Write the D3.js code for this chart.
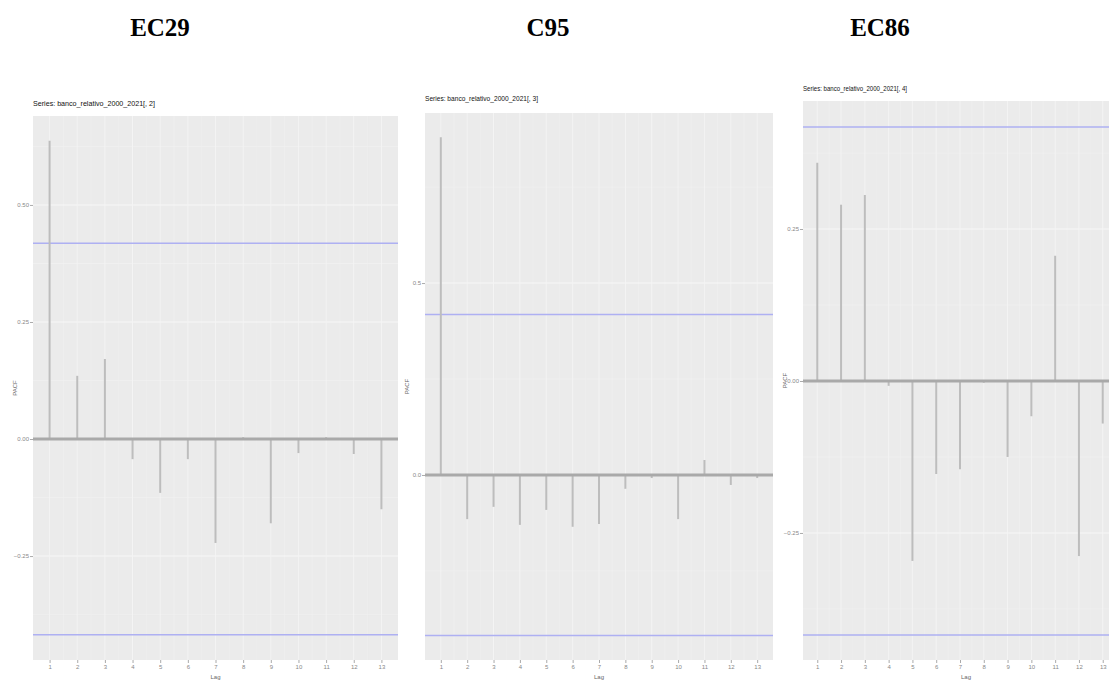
<!DOCTYPE html>
<html>
<head>
<meta charset="utf-8">
<script src="https://cdn.jsdelivr.net/npm/d3@7"></script>
<style>
  body { margin: 0; background: #fff; }
  .header { font-family: "Liberation Serif", "Times New Roman", serif; font-weight: bold; font-size: 25px; }
  .title { font-family: "Liberation Sans", Arial, sans-serif; font-size: 8px; fill: #111; }
  .tick text { font-family: "Liberation Sans", Arial, sans-serif; font-size: 6px; fill: #888; }
  .axlab { font-family: "Liberation Sans", Arial, sans-serif; font-size: 6px; fill: #666; }
</style>
</head>
<body>
<div class="canvas"></div>
<script>
// data
const lags = [1, 2, 3, 4, 5, 6, 7, 8, 9, 10, 11, 12, 13];
const headers = ['EC29', 'C95', 'EC86'];
const seriesTitles = [
  'Series: banco_relativo_2000_2021[, 2]',
  'Series: banco_relativo_2000_2021[, 3]',
  'Series: banco_relativo_2000_2021[, 4]'
];
const pacfEC29 = [0.637, 0.135, 0.171, -0.043, -0.115, -0.043, -0.222, 0.004, -0.180, -0.030, 0.004, -0.032, -0.150];
const pacfC95  = [0.880, -0.115, -0.083, -0.130, -0.091, -0.135, -0.128, -0.036, -0.008, -0.115, 0.039, -0.026, -0.008];
const pacfEC86 = [0.359, 0.290, 0.306, -0.008, -0.296, -0.153, -0.145, -0.003, -0.125, -0.058, 0.206, -0.288, -0.070];
const ciLimit = 0.418;
const yTicksEC29 = [-0.25, 0, 0.25, 0.5];
const yTicksC95 = [0, 0.5];
const yTicksEC86 = [-0.25, 0, 0.25];
const yMinorEC29 = [-0.375, -0.125, 0.125, 0.375, 0.625];
const yMinorC95 = [-0.25, 0.25, 0.75];
const yMinorEC86 = [-0.375, -0.125, 0.125, 0.375];

const svg = d3.select('.canvas')
              .append('svg')
              .attr('width', 1109)
              .attr('height', 681);

// panel layout
const panels = [
  {values: pacfEC29, ticks: yTicksEC29, minor: yMinorEC29, fmt: d3.format('.2f'),
   left: 33, right: 398, top: 116, bottom: 660, ydom: [-0.472, 0.690], headX: 160, titleTop: 108, titleW: 122},
  {values: pacfC95, ticks: yTicksC95, minor: yMinorC95, fmt: d3.format('.1f'),
   left: 425, right: 773, top: 113, bottom: 660, ydom: [-0.482, 0.943], headX: 548, titleTop: 103, titleW: 113},
  {values: pacfEC86, ticks: yTicksEC86, minor: yMinorEC86, fmt: d3.format('.2f'),
   left: 803, right: 1117, top: 101, bottom: 660, ydom: [-0.459, 0.4606], headX: 880, titleTop: 93, titleW: 104}
];

panels.forEach((p, i) => {
  // big header
  svg.append('text')
     .attr('class', 'header')
     .attr('x', p.headX)
     .attr('y', 36)
     .attr('text-anchor', 'middle')
     .text(headers[i]);

  const x = d3.scaleLinear().domain([0.4, 13.6]).range([p.left, p.right]);
  const y = d3.scaleLinear().domain(p.ydom).range([p.bottom, p.top]);

  const g = svg.append('g');

  // panel background
  g.append('rect')
   .attr('x', p.left).attr('y', p.top)
   .attr('width', p.right - p.left).attr('height', p.bottom - p.top)
   .attr('fill', '#ebebeb');

  // minor grid
  g.selectAll('.hminor').data(p.minor).enter().append('line')
   .attr('x1', p.left).attr('x2', p.right)
   .attr('y1', d => y(d)).attr('y2', d => y(d))
   .attr('stroke', '#f2f2f2').attr('stroke-width', 0.6);
  g.selectAll('.vminor').data(lags.slice(0, -1).map(d => d + 0.5)).enter().append('line')
   .attr('x1', d => x(d)).attr('x2', d => x(d))
   .attr('y1', p.top).attr('y2', p.bottom)
   .attr('stroke', '#f0f0f0').attr('stroke-width', 0.5);

  // major grid
  g.selectAll('.hmajor').data(p.ticks).enter().append('line')
   .attr('x1', p.left).attr('x2', p.right)
   .attr('y1', d => y(d)).attr('y2', d => y(d))
   .attr('stroke', '#f7f7f7').attr('stroke-width', 1.1);
  g.selectAll('.vmajor').data(lags).enter().append('line')
   .attr('x1', d => x(d)).attr('x2', d => x(d))
   .attr('y1', p.top).attr('y2', p.bottom)
   .attr('stroke', '#f4f4f4').attr('stroke-width', 0.9);

  // confidence limits
  g.selectAll('.ci').data([ciLimit, -ciLimit]).enter().append('line')
   .attr('x1', p.left).attr('x2', p.right)
   .attr('y1', d => y(d)).attr('y2', d => y(d))
   .attr('stroke', '#aeb0f2').attr('stroke-width', 1.5);

  // bars
  g.selectAll('.bar').data(p.values).enter().append('line')
   .attr('x1', (d, j) => x(lags[j])).attr('x2', (d, j) => x(lags[j]))
   .attr('y1', y(0)).attr('y2', d => y(d))
   .attr('stroke', '#bdbdbd').attr('stroke-width', 2);

  // zero line
  g.append('line')
   .attr('x1', p.left).attr('x2', p.right)
   .attr('y1', y(0)).attr('y2', y(0))
   .attr('stroke', '#a9a9a9').attr('stroke-width', 3);

  // axes
  const yAxis = d3.axisLeft(y).tickValues(p.ticks).tickFormat(p.fmt).tickSize(3).tickPadding(1);
  const xAxis = d3.axisBottom(x).tickValues(lags).tickSize(3).tickPadding(2);

  const ya = svg.append('g').attr('transform', 'translate(' + p.left + ',0)').call(yAxis);
  const xa = svg.append('g').attr('transform', 'translate(0,' + p.bottom + ')').call(xAxis);
  [ya, xa].forEach(a => {
    a.select('.domain').remove();
    a.selectAll('.tick line').attr('stroke', '#aaa');
  });

  // titles
  svg.append('text')
     .attr('class', 'title')
     .attr('x', p.left)
     .attr('y', p.titleTop - 2)
     .attr('textLength', p.titleW)
     .attr('lengthAdjust', 'spacingAndGlyphs')
     .text(seriesTitles[i]);

  svg.append('text')
     .attr('class', 'axlab')
     .attr('x', (p.left + Math.min(p.right, 1109)) / 2 + (i === 2 ? 10 : 0))
     .attr('y', 679)
     .attr('text-anchor', 'middle')
     .text('Lag');

  svg.append('text')
     .attr('class', 'axlab')
     .attr('transform', 'translate(' + (p.left - 16) + ',' + ((p.top + p.bottom) / 2) + ') rotate(-90)')
     .attr('text-anchor', 'middle')
     .text('PACF');
});
</script>
</body>
</html>
